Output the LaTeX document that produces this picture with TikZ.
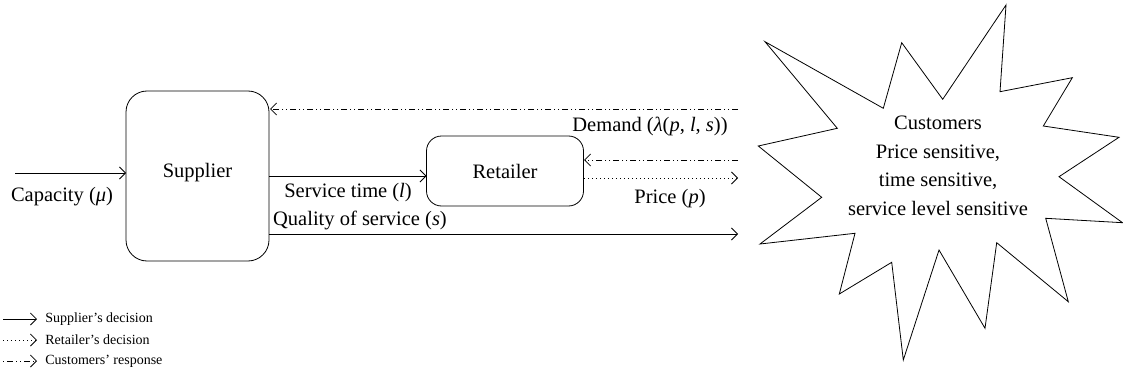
\documentclass[tikz,border=0pt]{standalone}
\usepackage{fontspec}
\setmainfont{Liberation Serif}
\usetikzlibrary{arrows.meta}
\begin{document}
\begin{tikzpicture}[x=1pt,y=-1pt,
  line width=0.8pt,
  tip/.style={-{Straight Barb[length=6pt,width=12pt,line width=0.8pt]}},
  sup/.style={tip},
  ret/.style={tip,dash pattern=on 1pt off 3pt},
  cus/.style={tip,dash pattern=on 6pt off 3pt on 1pt off 3pt on 1pt off 3pt},
  boxA/.style={draw,rounded corners=21pt},
  boxB/.style={draw,rounded corners=15pt},
  lbl/.style={font=\fontsize{20.5}{24}\selectfont,inner sep=0pt},
  leg/.style={font=\fontsize{14}{16}\selectfont,inner sep=0pt,anchor=west}]
\useasboundingbox (0,0) rectangle (1123,377);
% boxes
\node[boxA,minimum width=143pt,minimum height=170pt] (supplier) at (197.5,176) {};
\node[lbl] (suptxt) at (197.5,173) {Supplier};
\node[boxB,minimum width=157pt,minimum height=70pt] (retailer) at (505,171) {};
\node[lbl] (rettxt) at (505,171) {Retailer};
% star
\draw (765,41.7) -- (883.3,108.3) -- (901.7,42.7) -- (942.7,99.3) -- (1006,5)
 -- (1000,91.7) -- (1072.3,77.7) -- (1043.3,126) -- (1119,137.3) -- (1059,176.7)
 -- (1122.5,222.7) -- (1045.7,218.3) -- (1068.3,301.7) -- (996.7,242.7) -- (985,328.3)
 -- (939,250) -- (903.3,360) -- (891.7,262.3) -- (839.3,294) -- (855,233.3)
 -- (760,244) -- (821.7,197.3) -- (758.3,146) -- (837.3,128.3) -- cycle;
\node[lbl,align=center,font=\fontsize{20.5}{28.5}\selectfont] (cust) at (938,166)
 {Customers\\Price sensitive,\\time sensitive,\\service level sensitive};
% coordinates
\coordinate (capL) at (15,173);
\coordinate (capR) at (126,173);
\coordinate (demR) at (738,109);
\coordinate (demL) at (270,109);
\coordinate (resR) at (738,160);
\coordinate (resL) at (584,160);
\coordinate (priL) at (584,178);
\coordinate (priR) at (738,178);
\coordinate (stL) at (269,176);
\coordinate (stR) at (426.5,176);
\coordinate (qL) at (269,234);
\coordinate (qR) at (738,234);
% arrows
\draw[sup] (capL) -- (capR);
\draw[sup] (stL) -- (stR);
\draw[sup] (qL) -- (qR);
\draw[ret] (priL) -- (priR);
\draw[cus] (demR) -- (demL);
\draw[cus] (resR) -- (resL);
% labels
\node[lbl] (lcap) at (62,197) {Capacity (\textit{μ})};
\node[lbl] (lst) at (348,193) {Service time (\textit{l})};
\node[lbl] (lq) at (360,220) {Quality of service (\textit{s})};
\node[lbl] (lp) at (670,199) {Price (\textit{p})};
\node[lbl] (ld) at (650,126) {Demand (\textit{λ}(\textit{p}, \textit{l}, \textit{s}))};
% legend
\coordinate (a1) at (3,319); \coordinate (b1) at (37,319);
\coordinate (a2) at (3,340); \coordinate (b2) at (37,340);
\coordinate (a3) at (3,361); \coordinate (b3) at (37,361);
\draw[sup] (a1) -- (b1);
\draw[ret] (a2) -- (b2);
\draw[cus,dash pattern=on 1pt off 3pt on 6pt off 3pt on 1pt off 3pt] (a3) -- (b3);
\node[leg] (t1) at (45,319) {Supplier’s decision};
\node[leg] (t2) at (45,340) {Retailer’s decision};
\node[leg] (t3) at (45,361) {Customers’ response};
\end{tikzpicture}
\end{document}
